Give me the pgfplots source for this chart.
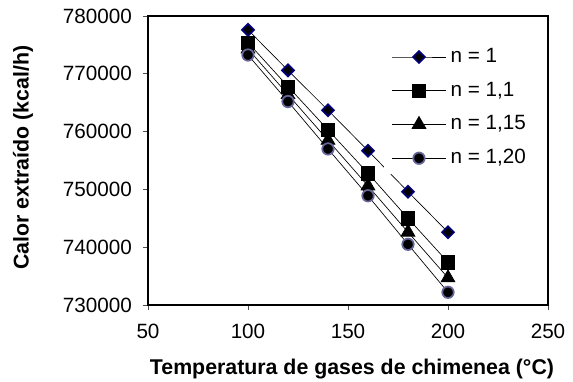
\documentclass[border=0pt]{standalone}
\usepackage{pgfplots}
\pgfplotsset{compat=1.18}
\usepackage{fontspec}
\setmainfont{Liberation Sans}
\definecolor{navyb}{RGB}{0,0,128}
\definecolor{circb}{RGB}{102,102,153}
\begin{document}
\fontsize{15.5}{18}\selectfont
\begin{tikzpicture}
\begin{axis}[
  scale only axis,
  width=300pt, height=216.75pt,
  xmin=50, xmax=250, ymin=730000, ymax=780000,
  xtick={50,100,...,250},
  ytick={730000,740000,...,780000},
  tick align=outside,
  major tick length=3.75pt,
  tick style={black!70, line width=0.6pt},
  axis line style={line width=1.1pt},
  xtick pos=bottom, ytick pos=left,
  /pgf/number format/assume math mode=true,
  /pgf/number format/.cd, fixed, 1000 sep={},
  /pgfplots/.cd,
  scaled y ticks=false,
  ticklabel style={font=\fontsize{15.5}{18}\selectfont},
  xticklabel style={yshift=-5pt},
  yticklabel style={xshift=-3pt},
  xlabel={\textbf{Temperatura de gases de chimenea (°C)}},
  ylabel={\textbf{Calor extraído (kcal/h)}},
  label style={font=\fontsize{16}{19}\selectfont},
  xlabel style={at={(rel axis cs:0.51,-0.222)}, anchor=center},
  ylabel style={at={(rel axis cs:-0.3125,0.51)}, anchor=center},
  legend style={at={(rel axis cs:0.59,0.9135)}, anchor=north west, draw=none, fill=white,
    inner xsep=6pt, inner ysep=4pt, outer sep=0pt,
    nodes={inner sep=1.5pt},
    font=\fontsize{15.5}{18}\selectfont, row sep=9.3pt,
    /tikz/every odd column/.append style={column sep=2pt}},
  legend cell align=left,
  legend image code/.code={\draw[mark repeat=2,mark phase=2] plot coordinates {(0pt,0pt) (20pt,0pt) (40pt,0pt)};},
]
\addplot[black, line width=0.5pt, mark=square*, mark size=3.2pt, mark options={rotate=45, fill=black, draw=navyb, line width=1.2pt}]
coordinates {(100,777600) (120,770600) (140,763700) (160,756700) (180,749600) (200,742600)};
\addlegendentry{n = 1}
\addplot[black, line width=0.5pt, mark=square*, mark size=5pt, mark options={fill=black, draw=black}]
coordinates {(100,775400) (120,767800) (140,760300) (160,752800) (180,745000) (200,737400)};
\addlegendentry{n = 1,1}
\addplot[black, line width=0.5pt, mark=triangle*, mark size=6pt, mark options={fill=black, draw=black}]
coordinates {(100,774300) (120,766400) (140,758500) (160,750600) (180,742600) (200,734700)};
\addlegendentry{n = 1,15}
\addplot[black, line width=0.5pt, mark=*, mark size=4.3pt, mark options={fill=black, draw=circb, line width=1.3pt}]
coordinates {(100,773250) (120,765200) (140,757000) (160,748900) (180,740500) (200,732200)};
\addlegendentry{n = 1,20}
\coordinate (bbl) at (rel axis cs:-0.37,-0.2664);
\coordinate (btr) at (rel axis cs:1.0625,1.0554);
\end{axis}
\pgfresetboundingbox
\path[use as bounding box] (bbl) rectangle (btr);
\end{tikzpicture}
\end{document}
